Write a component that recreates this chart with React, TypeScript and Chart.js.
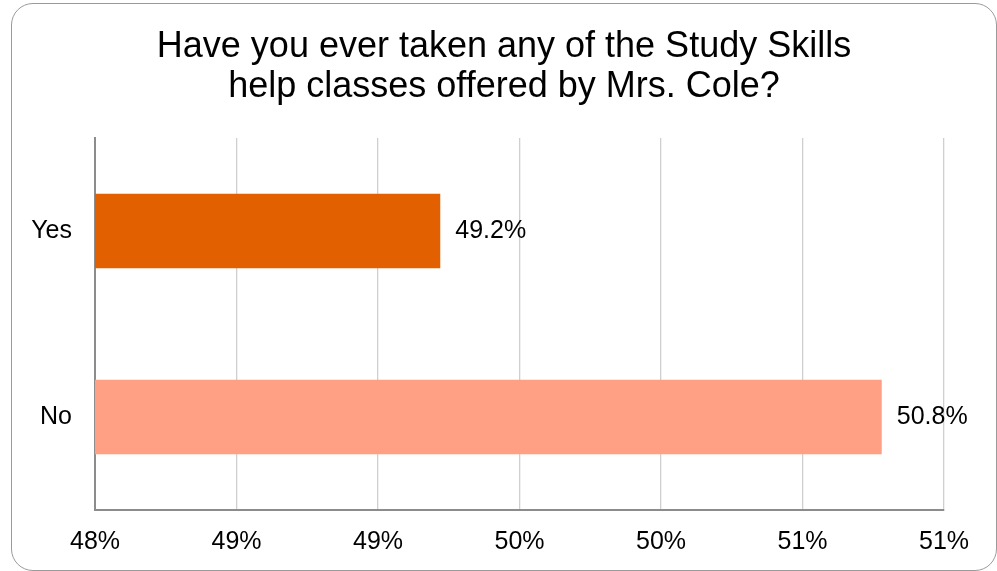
import React, { useEffect, useRef } from "react";
import { Chart, registerables } from "chart.js";

Chart.register(...registerables);

const TITLE_LINES = ["Have you ever taken any of the Study Skills", "help classes offered by Mrs. Cole?"];
const CATEGORIES = ["Yes", "No"];
const VALUES = [49.22, 50.78];
const VALUE_LABELS = ["49.2%", "50.8%"];
const BAR_COLORS = ["#E26000", "#FFA084"];
const X_MIN = 48;
const X_MAX = 51;
const X_STEP = 0.5;

const FONT = "'Liberation Sans', Arial, sans-serif";

const valueLabelPlugin = {
  id: "valueLabels",
  afterDatasetsDraw(chart: any) {
    const ctx = chart.ctx;
    const meta = chart.getDatasetMeta(0);
    ctx.save();
    ctx.font = `25px ${FONT}`;
    ctx.fillStyle = "#000";
    ctx.textAlign = "left";
    ctx.textBaseline = "middle";
    meta.data.forEach((bar: any, i: number) => {
      ctx.fillText(VALUE_LABELS[i], bar.x + 15, bar.y);
    });
    ctx.restore();
  },
};

export default function App() {
  const ref = useRef<HTMLCanvasElement | null>(null);

  useEffect(() => {
    document.body.style.margin = "0";
    if (!ref.current) return;
    const chart = new Chart(ref.current, {
      type: "bar",
      data: {
        labels: CATEGORIES,
        datasets: [
          {
            data: VALUES,
            backgroundColor: BAR_COLORS,
            borderWidth: 0,
            categoryPercentage: 0.8,
            barPercentage: 0.5,
          },
        ],
      },
      options: {
        indexAxis: "y",
        animation: false,
        responsive: false,
        maintainAspectRatio: false,
        layout: { padding: { left: 11, right: 0, top: 0, bottom: 0 } },
        plugins: {
          legend: { display: false },
          tooltip: { enabled: false },
          title: {
            display: true,
            text: TITLE_LINES,
            color: "#000",
            font: { family: FONT, size: 36, weight: "normal", lineHeight: 1.11 },
            padding: { top: 27, bottom: 31 },
          },
        },
        scales: {
          x: {
            min: X_MIN,
            max: X_MAX,
            ticks: {
              stepSize: X_STEP,
              color: "#000",
              font: { family: FONT, size: 25 },
              padding: 17,
              maxRotation: 0,
              autoSkip: false,
              callback: (v: any) => Math.round(Number(v)) + "%",
            },
            grid: { color: "#cfcfcf", lineWidth: 1.3, drawTicks: false },
            border: { color: "#8c8c8c", width: 2 },
            afterFit: (s: any) => {
              s.height = 61;
            },
          },
          y: {
            ticks: {
              color: "#000",
              font: { family: FONT, size: 25 },
              padding: 23,
            },
            grid: { display: false, drawTicks: false },
            border: { color: "#8c8c8c", width: 2 },
            afterFit: (s: any) => {
              s.width = 84;
            },
          },
          yRight: {
            position: "right",
            display: true,
            ticks: { display: false },
            grid: { display: false, drawTicks: false },
            border: { display: false },
            afterFit: (s: any) => {
              s.width = 53;
            },
          },
        },
      },
      plugins: [valueLabelPlugin],
    });
    return () => chart.destroy();
  }, []);

  return (
    <div style={{ position: "absolute", left: 0, top: 0, width: 997, height: 571, background: "#fff", overflow: "hidden" }}>
      <canvas ref={ref} width={997} height={571} style={{ position: "absolute", left: 0, top: 0, width: 997, height: 571 }} />
      <div
        style={{
          position: "absolute",
          left: 11,
          top: 3,
          width: 984,
          height: 566,
          border: "1px solid #9a9a9a",
          borderRadius: 22,
          pointerEvents: "none",
        }}
      />
    </div>
  );
}
